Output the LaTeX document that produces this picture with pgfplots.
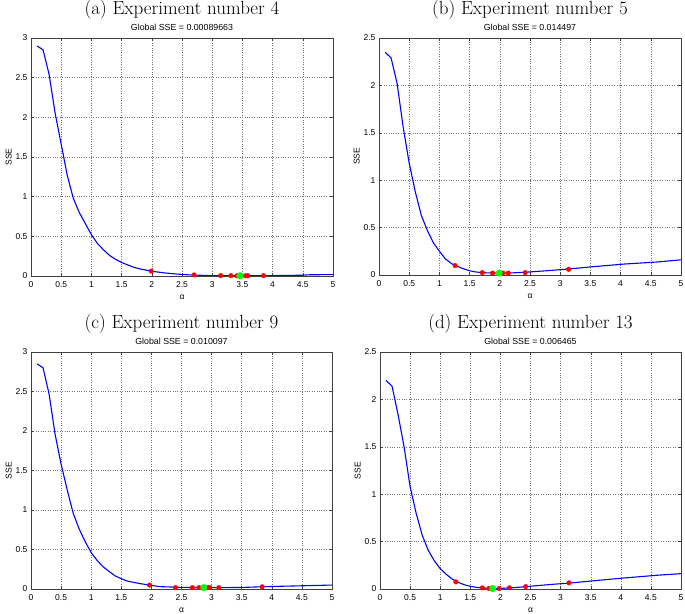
\documentclass[border=0pt]{standalone}
\usepackage{fontspec}
\usepackage{pgfplots}
\pgfplotsset{compat=1.18}
\newfontfamily\arial{Liberation Sans}
\pgfplotsset{
 sse/.style={
  scale only axis, anchor=south west, clip mode=individual,
  xmin=0, xmax=5, xtick={0,0.5,...,5}, ymin=0,
  grid=major, major grid style={dotted, black!55},
  tick align=inside, major tick length=3pt,
  tick label style={font=\arial\fontsize{8.5}{9}\selectfont},
  xticklabel style={yshift=-2.5pt},
  /pgf/number format/assume math mode=true,
  xlabel={α}, ylabel={SSE},
  label style={font=\arial\fontsize{8.5}{9}\selectfont},
  axis line style={black!75},
  every tick/.style={black!75},
  xlabel style={yshift=0pt},
  ylabel style={yshift=-3pt},
 },
 curve/.style={blue, line width=1.1pt},
 redpts/.style={only marks, mark=*, mark size=2.3pt, red, mark options={fill=red, draw=red}},
 greenpt/.style={only marks, mark=*, mark size=3.3pt, color=green, mark options={fill=green, draw=green}},
}
\tikzset{
 bigtitle/.style={font=\fontsize{19}{21}\selectfont, anchor=base, yshift=23pt},
 smalltitle/.style={font=\arial\fontsize{8.8}{9}\selectfont, anchor=base, yshift=7pt},
}
\begin{document}
\begin{tikzpicture}
\useasboundingbox (0pt,0pt) rectangle (685pt,613pt);
% (a)
\begin{axis}[sse, at={(31pt,337pt)}, width=302pt, height=238pt, ymax=3]
\addplot[curve] coordinates {(0.1,2.90) (0.2,2.85) (0.3,2.54) (0.4,2.05) (0.5,1.66) (0.6,1.27) (0.7,0.98) (0.8,0.80) (0.9,0.66) (1.0,0.52) (1.1,0.41) (1.2,0.33) (1.3,0.26) (1.4,0.21) (1.5,0.17) (1.6,0.14) (1.7,0.11) (1.8,0.09) (1.9,0.075) (2.0,0.06) (2.2,0.04) (2.4,0.025) (2.6,0.015) (2.8,0.009) (3.0,0.005) (3.5,0.003) (4.0,0.005) (4.5,0.01) (4.6,0.015) (5.0,0.018)};
\addplot[redpts] coordinates {(1.99,0.062) (2.70,0.013) (3.14,0.005) (3.31,0.004) (3.41,0.003) (3.55,0.003) (3.59,0.003) (3.85,0.004)};
\addplot[greenpt] coordinates {(3.46,0.003)};
\node[bigtitle] at (axis description cs:0.5,1) {(a)~Experiment number 4};
\node[smalltitle] at (axis description cs:0.5,1) {Global SSE = 0.00089663};
\end{axis}
% (b)
\begin{axis}[sse, at={(379pt,338pt)}, width=302pt, height=237pt, ymax=2.5]
\addplot[curve] coordinates {(0.1,2.35) (0.2,2.29) (0.3,2.02) (0.4,1.56) (0.5,1.18) (0.6,0.88) (0.7,0.63) (0.8,0.47) (0.9,0.34) (1.0,0.25) (1.1,0.17) (1.2,0.12) (1.3,0.09) (1.4,0.065) (1.5,0.045) (1.6,0.032) (1.7,0.026) (1.8,0.022) (2.0,0.02) (2.2,0.022) (2.44,0.03) (2.78,0.045) (3.14,0.063) (3.5,0.085) (4.05,0.115) (4.6,0.137) (5.0,0.16)};
\addplot[redpts] coordinates {(1.26,0.10) (1.71,0.025) (1.88,0.02) (2.05,0.02) (2.14,0.02) (2.42,0.025) (3.14,0.06)};
\addplot[greenpt] coordinates {(1.99,0.02)};
\node[bigtitle] at (axis description cs:0.5,1) {(b)~Experiment number 5};
\node[smalltitle] at (axis description cs:0.5,1) {Global SSE = 0.014497};
\end{axis}
% (c)
\begin{axis}[sse, at={(31pt,24pt)}, width=301pt, height=237pt, ymax=3]
\addplot[curve] coordinates {(0.1,2.85) (0.2,2.80) (0.3,2.47) (0.4,1.96) (0.5,1.58) (0.6,1.26) (0.7,0.96) (0.8,0.76) (0.9,0.60) (1.0,0.46) (1.1,0.36) (1.2,0.28) (1.3,0.22) (1.4,0.165) (1.5,0.13) (1.6,0.10) (1.8,0.07) (2.0,0.045) (2.14,0.03) (2.53,0.02) (3.08,0.017) (3.52,0.02) (3.9,0.03) (4.46,0.04) (5.0,0.05)};
\addplot[redpts] coordinates {(1.97,0.05) (2.40,0.018) (2.68,0.017) (2.79,0.017) (2.94,0.017) (2.97,0.017) (3.12,0.017) (3.84,0.028)};
\addplot[greenpt] coordinates {(2.87,0.017)};
\node[bigtitle] at (axis description cs:0.5,1) {(c)~Experiment number 9};
\node[smalltitle] at (axis description cs:0.5,1) {Global SSE = 0.010097};
\end{axis}
% (d)
\begin{axis}[sse, at={(380pt,24pt)}, width=301pt, height=237pt, ymax=2.5]
\addplot[curve] coordinates {(0.1,2.20) (0.2,2.14) (0.3,1.84) (0.4,1.50) (0.5,1.08) (0.6,0.80) (0.7,0.57) (0.8,0.41) (0.9,0.30) (1.0,0.215) (1.1,0.155) (1.2,0.105) (1.3,0.07) (1.4,0.045) (1.5,0.028) (1.6,0.018) (1.72,0.011) (1.94,0.004) (2.22,0.014) (2.55,0.032) (2.88,0.05) (3.16,0.063) (3.6,0.09) (4.05,0.116) (4.6,0.145) (5.0,0.162)};
\addplot[redpts] coordinates {(1.26,0.075) (1.70,0.012) (1.81,0.006) (1.98,0.005) (2.15,0.012) (2.42,0.025) (3.14,0.065)};
\addplot[greenpt] coordinates {(1.87,0.005)};
\node[bigtitle] at (axis description cs:0.5,1) {(d)~Experiment number 13};
\node[smalltitle] at (axis description cs:0.5,1) {Global SSE = 0.006465};
\end{axis}
\end{tikzpicture}
\end{document}
